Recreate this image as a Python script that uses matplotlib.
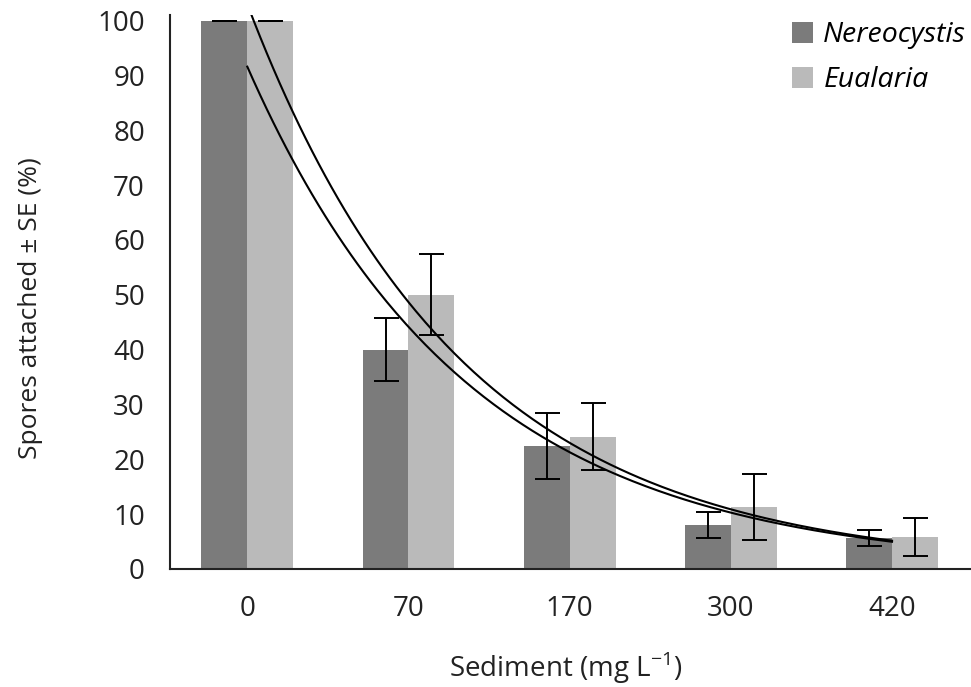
import numpy as np
import matplotlib
matplotlib.use("Agg")
import matplotlib.pyplot as plt

plt.rcParams['font.family'] = ['Open Sans', 'DejaVu Sans']
plt.rcParams['mathtext.fontset'] = 'custom'
plt.rcParams['mathtext.rm'] = 'Open Sans'

# sediment concentrations (mg/L)
sediment = ['0', '70', '170', '300', '420']

nereocystis = [100, 40, 22.4, 8.0, 5.6]
nereocystis_se = [0, 5.8, 6.1, 2.4, 1.4]
eualaria = [100, 50, 24.1, 11.3, 5.8]
eualaria_se = [0, 7.4, 6.1, 6.0, 3.5]

# exponential fits y = a * exp(-b * x), x = category index
fit_upper = (103, 0.75)
fit_lower = (91.6, 0.73)

dark = '#7b7b7b'
light = '#bababa'

fig = plt.figure(figsize=(9.71, 6.87), dpi=100)
ax = fig.add_axes([0.175, 0.172, 0.825, 0.806])

x = np.arange(len(sediment))
w = 0.285
err_kw = dict(ecolor='black', elinewidth=1.4, capsize=9, capthick=1.4)
ax.bar(x - w / 2, nereocystis, w, color=dark, label='Nereocystis',
       yerr=nereocystis_se, error_kw=err_kw, zorder=2)
ax.bar(x + w / 2, eualaria, w, color=light, label='Eualaria',
       yerr=eualaria_se, error_kw=err_kw, zorder=2)

xs = np.linspace(0, 4, 200)
for a, b in (fit_upper, fit_lower):
    ax.plot(xs, a * np.exp(-b * xs), color='black', lw=1.5, zorder=3)

ax.set_xlim(-0.48, 4.49)
ax.set_ylim(0, 101)
ax.set_yticks(np.arange(0, 101, 10))
ax.set_xticks(x)
ax.set_xticklabels(sediment)
ax.tick_params(axis='both', length=0, labelsize=20, colors='#222222')
ax.tick_params(axis='x', pad=19)
ax.tick_params(axis='y', pad=18)

for s in ('top', 'right'):
    ax.spines[s].set_visible(False)
for s in ('left', 'bottom'):
    ax.spines[s].set_linewidth(1.5)
    ax.spines[s].set_color('#222222')

ax.set_ylabel('Spores attached \u00b1 SE (%)', fontsize=19, color='#222222')
ax.yaxis.set_label_coords(-0.158, 0.47)
ax.set_xlabel(r'Sediment (mg L$^{\mathregular{-1}}$)', fontsize=20, color='#222222')
ax.xaxis.set_label_coords(0.494, -0.147)

leg = ax.legend(loc='upper right', bbox_to_anchor=(1.026, 1.035), frameon=False,
                prop=dict(size=20.5, style='italic'), handlelength=0.75,
                handleheight=0.75, handletextpad=0.35, labelspacing=0.6)

fig.savefig('out.png', dpi=100)
